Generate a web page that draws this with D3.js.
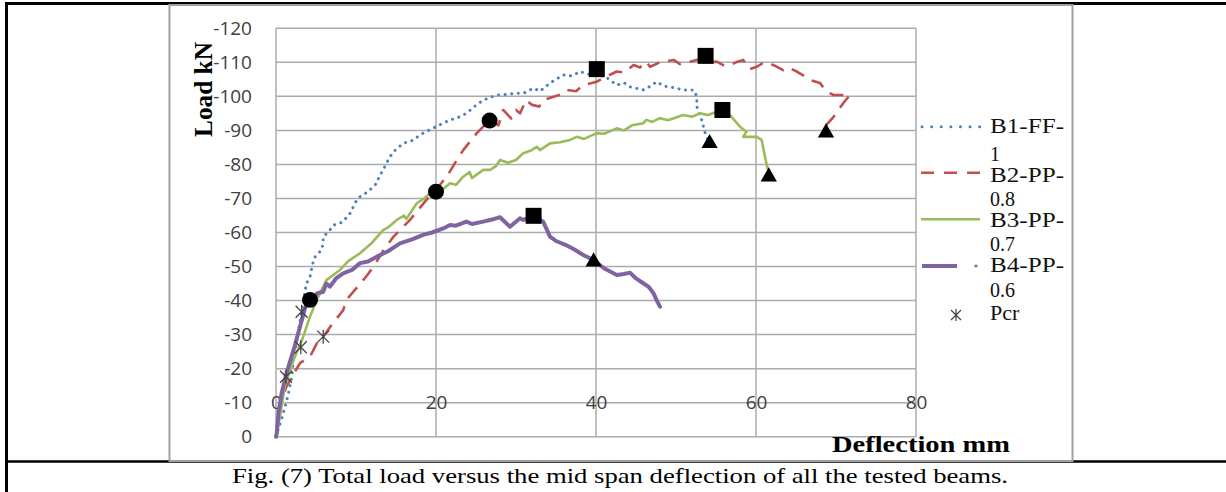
<!DOCTYPE html>
<html><head><meta charset="utf-8">
<script src="https://cdn.jsdelivr.net/npm/d3@7"></script>
<style>
html,body{margin:0;padding:0;background:#fff;}
svg{display:block;}
</style></head>
<body>
<svg id="chart" width="1226" height="492"></svg>
<script>
// ---------- DATA ----------
const seriesNames = ["B1-FF-", "B2-PP-", "B3-PP-", "B4-PP-"];
const seriesSub = ["1", "0.8", "0.7", "0.6"];
const xTicks = [0, 20, 40, 60, 80];
const yTicks = [0, -10, -20, -30, -40, -50, -60, -70, -80, -90, -100, -110, -120];

// [deflection mm, load kN]
const b1 = [[0,0],[0.8,-6],[1.5,-12],[2.0,-18],[2.2,-23.5],[2.6,-28],[2.8,-31.4],[3.2,-36.3],[3.5,-41],[3.8,-45],[4.25,-47],[4.7,-51.9],[4.9,-52.9],[5.7,-54.9],[5.9,-57],[5.9,-58.8],[6.5,-60],[7.2,-62.2],[8.3,-63],[9.25,-65.6],[10.1,-69.6],[10.5,-70.5],[11.5,-72],[12.6,-74.5],[12.9,-76.5],[13.4,-78.4],[13.8,-80.3],[14.25,-82.3],[14.9,-84.2],[15.9,-86.2],[17,-87],[18.4,-89.2],[20,-91.1],[21.75,-93.1],[22.5,-93.5],[23.8,-95],[24.8,-97],[25.9,-98.9],[27.6,-100.4],[28.5,-100.5],[30,-100.9],[31,-101],[32.2,-102.4],[33,-101.5],[34.25,-103.9],[35.9,-106.3],[37,-106],[38,-107.3],[39,-106.5],[40.1,-106.3],[41.3,-105.6],[42.6,-103.3],[43.5,-104],[44.25,-102.8],[45.9,-101.9],[46.8,-103],[47.6,-104.3],[48.5,-103],[49.25,-102.8],[50.9,-101.9],[52.2,-101.9],[52.6,-100],[52.6,-97],[53.2,-93.1],[53.6,-89.6],[54.2,-86.2]];
const b2 = [[0,0],[0.5,-8.8],[1.3,-14.7],[2.2,-18.5],[3,-21.6],[4.25,-23.5],[5.1,-27.4],[5.9,-29.4],[7,-33],[8.4,-37.2],[8.8,-40.2],[10.9,-46],[11.25,-47],[12.2,-50],[13.5,-55],[14.7,-58.8],[16.75,-63.7],[18.8,-69.6],[20,-72.5],[21.5,-77],[22.6,-81.3],[23.4,-84.2],[25.1,-89.2],[26.75,-93.1],[27.8,-91.5],[28.4,-96],[29.4,-93.5],[30,-96],[30.5,-95],[31.25,-98.9],[32,-97.5],[32.9,-97],[33.5,-99],[34.7,-99.9],[35.5,-100.5],[36.3,-101.9],[37.5,-101.5],[38.4,-103.3],[40.1,-104.3],[41,-105.5],[42.6,-107.3],[43.5,-107],[44.7,-109.2],[45.5,-108.5],[46.3,-110.2],[46.75,-108.7],[48,-110],[49.7,-110.7],[50.5,-109.5],[51.75,-110.2],[53.4,-111.2],[54.3,-110],[55.1,-110.2],[56,-109],[56.75,-109.2],[57.5,-110],[58.4,-110.7],[59.2,-108],[60.1,-108.7],[61,-110],[62.2,-109.2],[63.4,-107.7],[64,-108.5],[65.1,-107.3],[66,-106],[66.75,-104.8],[68,-103.9],[68.8,-101.4],[69.7,-100.4],[70.9,-100.4],[71.75,-100.4],[70.9,-98],[69.7,-94],[68.8,-91.6],[68.75,-89.3]];
const b3 = [[0,0],[0.5,-6],[1.1,-14.7],[2.2,-22.5],[3.4,-29.4],[4.25,-35.3],[5.1,-40.2],[6.3,-46],[8,-49],[9,-51.5],[10.5,-53.9],[12,-57],[13.4,-60.7],[14,-61.5],[15.1,-63.7],[16,-65],[16.3,-64],[17.6,-68.6],[18.5,-70],[19.25,-71.5],[20.1,-72.5],[21,-73],[21.75,-74.5],[22.5,-74],[23.4,-76.4],[24.2,-77.8],[24.5,-76],[25.9,-78.4],[26.75,-78.4],[27.5,-79.5],[28,-81.3],[29,-80.5],[30,-81.3],[30.9,-83.3],[31.8,-84],[32.6,-85.2],[33,-84.2],[34.25,-86.2],[35.5,-86.5],[36.75,-87.2],[37.6,-88.1],[38.5,-87.5],[40.1,-89.2],[41,-89],[42.6,-90.6],[43.5,-90],[44.5,-91.5],[45.9,-92.1],[46.3,-93.1],[47,-92.5],[48,-93.6],[49,-93],[50.9,-94.5],[52,-94],[53,-95],[54,-94.5],[55.1,-95.5],[55.8,-96],[56.75,-94.5],[58,-91.1],[58.8,-89.6],[58.4,-88.1],[60.1,-88.1],[60.7,-87.2],[61.3,-80.3],[61.5,-78.4]];
const b4 = [[0,0],[0.1,-1],[0.3,-6.9],[0.7,-12.7],[1.3,-18.6],[2.2,-25.5],[3,-32.3],[3.8,-39.2],[4.9,-41.1],[5.1,-42.1],[5.9,-42.6],[6.3,-45],[6.75,-44.1],[7.5,-46.5],[8.4,-48],[9.5,-49],[10.5,-51],[11.5,-51.5],[12.6,-52.9],[14,-54.5],[15.5,-56.8],[17,-58],[18.4,-59.3],[19.5,-60],[20.9,-61.2],[21.75,-62.2],[22.5,-62],[23.8,-63.2],[24.5,-62.5],[25.9,-63.2],[27,-63.8],[28,-64.5],[29.25,-61.7],[30.5,-64.2],[30.9,-63.7],[32.2,-64.9],[33.4,-63.2],[34.25,-58.8],[35,-57.5],[36.25,-56.3],[37.3,-55],[38.4,-53.4],[39.7,-51.9],[41,-49.5],[42.6,-47.5],[43.5,-47.8],[44.25,-48.2],[45,-46.5],[45.9,-45.1],[46.6,-44],[47.2,-42.1],[47.6,-40],[48,-38.2]];

const circlePts = [[4.25,-40.2],[20,-72],[26.7,-92.9]];
const squarePts = [[40.1,-108],[53.7,-111.9],[55.8,-96],[32.2,-64.9]];
const trianglePts = [[54.2,-86.2],[61.6,-76.4],[68.75,-89.3],[39.7,-51.4]];
const pcrPts = [[1.25,-17.6],[3.1,-26.3],[3.2,-36.7],[5.9,-29.4]];

// ---------- DRAW ----------
const svg = d3.select("#chart");
const x = d3.scaleLinear().domain([0, 80]).range([276, 916]);
const y = d3.scaleLinear().domain([0, -120]).range([436.7, 28.3]);
const serif = "'Liberation Serif', 'Times New Roman', serif";
const sans = "'Open Sans', sans-serif";

// outer table borders
svg.append("line").attr("x1",6.5).attr("x2",6.5).attr("y1",2).attr("y2",492).attr("stroke","#000").attr("stroke-width",3);
svg.append("line").attr("x1",5).attr("x2",1226).attr("y1",3.5).attr("y2",3.5).attr("stroke","#000").attr("stroke-width",3);
svg.append("line").attr("x1",5).attr("x2",1226).attr("y1",461.5).attr("y2",461.5).attr("stroke","#000").attr("stroke-width",2.5);

// chart frame
svg.append("rect").attr("x",169.5).attr("y",5).attr("width",903).attr("height",456)
  .attr("fill","none").attr("stroke","#a0a0a0").attr("stroke-width",2);

// gridlines
const grid = svg.append("g");
grid.selectAll("line.h").data(yTicks).join("line")
  .attr("x1", x(0)).attr("x2", x(80)).attr("y1", d => y(d)).attr("y2", d => y(d))
  .attr("stroke","#ababab").attr("stroke-width",1.5);
grid.selectAll("line.v").data(xTicks).join("line")
  .attr("y1", y(0)).attr("y2", y(-120)).attr("x1", d => x(d)).attr("x2", d => x(d))
  .attr("stroke","#ababab").attr("stroke-width",1.5);

// y axis
const yAxis = svg.append("g").attr("transform", `translate(${x(0)},0)`)
  .call(d3.axisLeft(y).tickValues(yTicks).tickSize(0).tickPadding(24).tickFormat(d => String(d)));
yAxis.select(".domain").remove();
yAxis.selectAll("text").attr("font-family",sans).attr("font-size",19).attr("fill","#404040");

// x axis (labels sit on the -10 line, as in the reference)
const xAxis = svg.append("g").attr("transform", `translate(0,${y(-10)})`)
  .call(d3.axisBottom(x).tickValues(xTicks).tickSize(0).tickPadding(0).tickFormat(d => String(d)));
xAxis.select(".domain").remove();
xAxis.selectAll("text").attr("y",0).attr("dy","0.35em")
  .attr("font-family",sans).attr("font-size",19).attr("fill","#404040");

// axis titles
svg.append("text").attr("transform","translate(212,89.5) rotate(-90)")
  .attr("text-anchor","middle").attr("font-family",serif)
  .attr("font-weight","bold").attr("font-size",25).attr("textLength",95).attr("lengthAdjust","spacingAndGlyphs")
  .text("Load kN");
svg.append("text").attr("x",832).attr("y",452)
  .attr("font-family",serif).attr("font-weight","bold").attr("font-size",23)
  .attr("textLength",178).attr("lengthAdjust","spacingAndGlyphs").text("Deflection mm");

// caption
svg.append("text").attr("x",232).attr("y",483)
  .attr("font-family",serif).attr("font-size",22)
  .attr("textLength",776).attr("lengthAdjust","spacingAndGlyphs")
  .text("Fig. (7) Total load versus the mid span deflection of all the tested beams.");

// series lines
const line = d3.line().x(d => x(d[0])).y(d => y(d[1]));
const styles = [
  {data:b1, color:"#4F81BD", width:3, dash:"0.1 6.5", cap:"round"},
  {data:b2, color:"#C0504D", width:2.6, dash:"14 9", cap:"butt"},
  {data:b3, color:"#9BBB59", width:2.6, dash:null, cap:"butt"},
  {data:b4, color:"#8064A2", width:4, dash:null, cap:"round"}
];
styles.forEach(s => {
  svg.append("path").datum(s.data).attr("d", line)
    .attr("fill","none").attr("stroke", s.color).attr("stroke-width", s.width)
    .attr("stroke-linecap", s.cap).attr("stroke-linejoin","round")
    .attr("stroke-dasharray", s.dash);
});

// markers
const starPath = "M-6,-6L6,6M-6,6L6,-6M0,-7L0,7";
svg.append("g").selectAll("path").data(pcrPts).join("path")
  .attr("transform", d => `translate(${x(d[0])},${y(d[1])})`)
  .attr("d", starPath).attr("stroke","#444").attr("stroke-width",1.3).attr("fill","none");
svg.append("g").selectAll("path").data(circlePts).join("path")
  .attr("transform", d => `translate(${x(d[0])},${y(d[1])})`)
  .attr("d", d3.symbol(d3.symbolCircle, 200)()).attr("fill","#000");
svg.append("g").selectAll("path").data(squarePts).join("path")
  .attr("transform", d => `translate(${x(d[0])},${y(d[1])})`)
  .attr("d", d3.symbol(d3.symbolSquare, 256)()).attr("fill","#000");
svg.append("g").selectAll("path").data(trianglePts).join("path")
  .attr("transform", d => `translate(${x(d[0])},${y(d[1])})`)
  .attr("d", d3.symbol(d3.symbolTriangle, 115)()).attr("fill","#000");

// legend
const legY = [126.7, 172.7, 219.3, 266];
const legBase = [133, 182, 227, 272];
const legSubBase = [161, 206, 251, 297];
const leg = svg.append("g");
styles.forEach((s, i) => {
  if (i === 3) {
    leg.append("line").attr("x1",922).attr("x2",957).attr("y1",legY[i]).attr("y2",legY[i])
      .attr("stroke",s.color).attr("stroke-width",4);
    leg.append("circle").attr("cx",976).attr("cy",legY[i]).attr("r",1.6).attr("fill",s.color);
  } else {
    leg.append("line").attr("x1",i===0?922:921).attr("x2",i===1?982:980).attr("y1",legY[i]).attr("y2",legY[i])
      .attr("stroke",s.color).attr("stroke-width",s.width)
      .attr("stroke-linecap", s.cap)
      .attr("stroke-dasharray", i===0 ? "0.1 9.5" : (i===1 ? "13 10" : null));
  }
  leg.append("text").attr("x",990).attr("y",legBase[i])
    .attr("font-family",serif).attr("font-size",21).attr("fill","#111")
    .attr("textLength",74).attr("lengthAdjust","spacingAndGlyphs").text(seriesNames[i]);
  leg.append("text").attr("x",990).attr("y",legSubBase[i])
    .attr("font-family",serif).attr("font-size",20).attr("fill","#111")
    .text(seriesSub[i]);
});
leg.append("path").attr("transform","translate(956,315)").attr("d","M-5,-5L5,5M-5,5L5,-5M0,-6L0,6")
  .attr("stroke","#444").attr("stroke-width",1.2).attr("fill","none");
leg.append("text").attr("x",990).attr("y",320)
  .attr("font-family",serif).attr("font-size",22).attr("fill","#111").text("Pcr");
</script>
</body></html>
